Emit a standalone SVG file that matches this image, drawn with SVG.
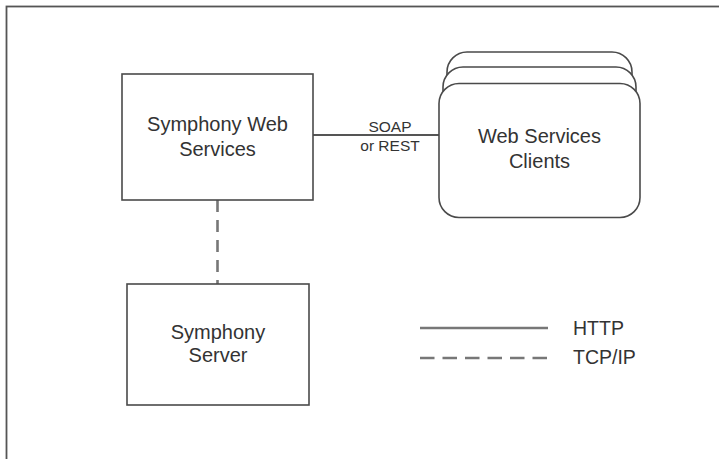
<svg xmlns="http://www.w3.org/2000/svg" width="719" height="459" viewBox="0 0 719 459">
  <style>
    .box { fill: #ffffff; stroke: #4a4a4a; stroke-width: 1.6; }
    .lbl { font-family: "Liberation Sans", Arial, sans-serif; font-size: 20px; fill: #333333; text-anchor: middle; }
    .small { font-family: "Liberation Sans", Arial, sans-serif; font-size: 15.5px; fill: #333333; text-anchor: middle; }
    .leg { font-family: "Liberation Sans", Arial, sans-serif; font-size: 19.5px; fill: #333333; }
    .solid { stroke: #555555; stroke-width: 1.8; fill: none; }
    .dash { stroke: #777777; stroke-width: 2.6; fill: none; stroke-dasharray: 12 8; }
  </style>
  <rect x="0" y="0" width="719" height="459" fill="#ffffff"/>
  <rect x="6.5" y="6.5" width="800" height="600" fill="none" stroke="#555555" stroke-width="1.8"/>

  <g id="connectors">
    <line class="solid" x1="313" y1="135" x2="439" y2="135"/>
    <line class="dash" x1="217.5" y1="200" x2="217.5" y2="284" stroke-dasharray="10 8"/>
    <text class="small" x="390" y="132">SOAP</text>
    <text class="small" x="390" y="151">or REST</text>
  </g>

  <g id="symphony-web-services">
    <rect class="box" x="122" y="74" width="191" height="126"/>
    <text class="lbl" x="217.5" y="131">Symphony Web</text>
    <text class="lbl" x="217.5" y="156">Services</text>
  </g>

  <g id="web-services-clients">
    <rect class="box" x="447" y="52" width="185" height="130" rx="20" ry="20"/>
    <rect class="box" x="443" y="67" width="193" height="135" rx="20" ry="20"/>
    <rect class="box" x="439" y="83.5" width="201" height="134" rx="20" ry="20"/>
    <text class="lbl" x="539.5" y="143">Web Services</text>
    <text class="lbl" x="539.5" y="168">Clients</text>
  </g>

  <g id="symphony-server">
    <rect class="box" x="127" y="284" width="182" height="121"/>
    <text class="lbl" x="218" y="339">Symphony</text>
    <text class="lbl" x="218" y="362">Server</text>
  </g>

  <g id="legend">
    <line x1="420" y1="328" x2="548" y2="328" stroke="#777777" stroke-width="2.4"/>
    <line x1="420" y1="358" x2="548" y2="358" stroke="#777777" stroke-width="2.4" stroke-dasharray="14.5 8"/>
    <text class="leg" x="573" y="335">HTTP</text>
    <text class="leg" x="573" y="364">TCP/IP</text>
  </g>
</svg>
